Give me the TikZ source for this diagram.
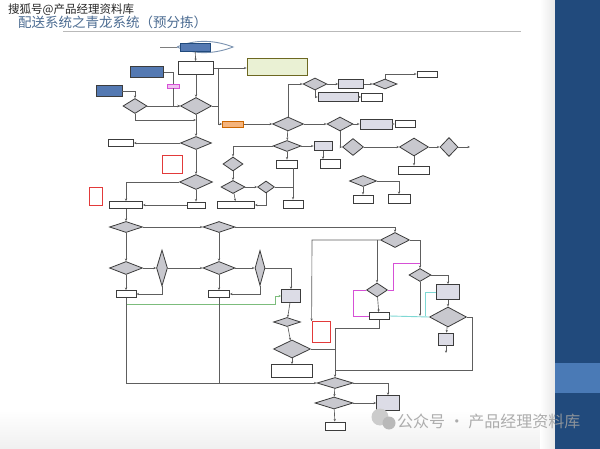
\documentclass[tikz,border=0pt]{standalone}
\usepackage{fontspec}
\usepackage{tikz}
\usetikzlibrary{arrows.meta,shapes.geometric,shapes.misc}
\newfontfamily\cjk{Noto Sans CJK SC}
\definecolor{slideblue}{HTML}{214A7C}
\definecolor{bandblue}{HTML}{4A7AB6}
\definecolor{titlegray}{HTML}{4C6C92}
\definecolor{linegray}{HTML}{5E5E5E}
\definecolor{boxedge}{HTML}{3C3C3C}
\definecolor{diafill}{HTML}{C8C8CE}
\definecolor{boxfill}{HTML}{DCDCE6}
\definecolor{flowblue}{HTML}{5479B2}
\definecolor{flowgreen}{HTML}{7CBC7C}
\definecolor{flowcyan}{HTML}{7ED8D4}
\definecolor{flowpink}{HTML}{D650D6}
\definecolor{flowred}{HTML}{E23A3A}
\definecolor{flowolive}{HTML}{EAF1D4}
\definecolor{floworange}{HTML}{F5B47C}

\begin{document}
\begin{tikzpicture}[x=1pt,y=-1pt,
  sz/.style 2 args={minimum width=#1,minimum height=#2},
  box/.style={draw=boxedge,fill=white,line width=0.8pt,inner sep=0pt},
  gbox/.style={box,fill=boxfill},
  redbox/.style={box,draw=flowred},
  dia/.style={diamond,aspect=1,draw=boxedge,fill=diafill,line width=0.8pt,inner sep=0pt},
  ln/.style={draw=linegray,line width=0.65pt,-{Stealth[length=2.6pt,width=2.2pt]}},
  plain/.style={draw=linegray,line width=0.65pt},
  grn/.style={ln,draw=flowgreen,line width=0.8pt},
  cyn/.style={plain,draw=flowcyan,line width=0.9pt},
  mag/.style={plain,draw=flowpink,line width=0.8pt}]
  \useasboundingbox (0,0) rectangle (600,449);
  % slide background
  \fill[white] (0,0) rectangle (600,449);
  \shade[top color=white,bottom color=gray!12] (0,410) rectangle (540,449);
  \shade[left color=white,right color=gray!18] (540,0) rectangle (555,449);
  \fill[slideblue] (555,0) rectangle (600,449);
  \fill[bandblue] (555,363) rectangle (600,393);
  % title
  \node[anchor=base west,inner sep=0pt,text=titlegray,font=\cjk\fontsize{13.5}{13.5}\selectfont] (title) at (18,28) {配送系统之青龙系统（预分拣）};
  \draw[gray!55,line width=0.8pt] (63,31) -- (521,31);
  \node[anchor=base west,inner sep=0pt,text=black!85,font=\cjk\fontsize{11.5}{11.5}\selectfont] (mark) at (8,13.5) {搜狐号@产品经理资料库};

  % start
  \draw[plain,draw=linegray!80] (160,47) -- (177,47);
  \draw[plain,draw=slideblue!60,line width=0.9pt] (177,47) .. controls (195,39) and (215,40) .. (233,47) .. controls (215,54) and (195,55) .. (177,47);
  \node[box,fill=flowblue,draw=slideblue,sz={30}{8}] (start) at (195,47) {};

  % top left
  \node[box,chamfered rectangle,chamfered rectangle xsep=3pt,sz={35}{13}] (recv) at (196,68) {};
  \node[box,fill=flowblue,sz={33}{11}] (ord1) at (147,72) {};
  \node[box,fill=flowblue,sz={26}{11}] (ord2) at (109,91) {};
  \node[dia,sz={24}{15}] (chk1) at (135,106) {};
  \node[dia,sz={31}{17}] (gis) at (196,106) {};
  \node[box,draw=flowpink,fill=flowpink!35,sz={12}{4}] (tag) at (173,86) {};
  \node[box,draw=olive!70!black,fill=flowolive,sz={60}{17}] (note) at (277,67) {};
  \node[box,draw=orange!80!black,fill=floworange,sz={21}{6}] (addr) at (233,124) {};
  \node[dia,sz={31}{13}] (chk2) at (196,143) {};
  \node[box,sz={25}{7}] (b1) at (121,143) {};
  \node[redbox,sz={20}{18}] (r1) at (172,164) {};
  \node[dia,sz={33}{15}] (chk3) at (196,182) {};
  \node[box,sz={18}{6}] (b2) at (196,205) {};
  \node[box,sz={33}{7}] (b3) at (126,205) {};
  \node[redbox,sz={13}{18}] (r2) at (96,196) {};

  % middle top
  \node[dia,sz={31}{14}] (d12) at (288,124) {};
  \node[dia,sz={24}{12}] (d13) at (315,84) {};
  \node[gbox,sz={25}{9}] (b9) at (351,84) {};
  \node[dia,sz={24}{10}] (d14) at (385,84) {};
  \node[box,sz={20}{6}] (b10) at (427,74) {};
  \node[gbox,sz={40}{9}] (b11) at (338,97) {};
  \node[box,sz={21}{8}] (b12) at (372,97) {};
  \node[dia,sz={26}{14}] (d15) at (340,124) {};
  \node[gbox,sz={32}{10}] (b13) at (376,124) {};
  \node[box,sz={20}{7}] (b14) at (405,124) {};
  \node[dia,sz={28}{11}] (d16) at (287,146) {};
  \node[gbox,sz={18}{9}] (b15) at (323,146) {};
  \node[box,sz={20}{9}] (b16) at (330,164) {};
  \node[box,sz={21}{8}] (b17) at (287,164) {};
  \node[dia,sz={21}{17}] (d17) at (353,147) {};
  \node[dia,sz={29}{18}] (d18) at (414,147) {};
  \node[dia,sz={18}{19}] (d19) at (449,147) {};
  \node[box,sz={31}{8}] (b18) at (414,170) {};
  \node[dia,sz={27}{11}] (d20) at (363,181) {};
  \node[box,sz={20}{8}] (b19) at (363,199) {};
  \node[box,sz={22}{9}] (b20) at (399,199) {};
  \node[dia,sz={20}{14}] (d21) at (233,164) {};
  \node[dia,sz={24}{13}] (d22) at (233,187) {};
  \node[dia,sz={17}{12}] (d23) at (266,187) {};
  \node[box,sz={37}{7}] (b21) at (236,205) {};
  \node[box,sz={20}{8}] (b22) at (293,204) {};

  % lower left
  \node[dia,sz={33}{11}] (d4) at (126,227) {};
  \node[dia,sz={32}{11}] (d5) at (219,227) {};
  \node[dia,sz={33}{13}] (d6) at (126,268) {};
  \node[dia,sz={11}{36}] (v1) at (162,268) {};
  \node[box,sz={20}{7}] (b4) at (126,294) {};
  \node[dia,sz={32}{13}] (d7) at (219,268) {};
  \node[dia,sz={10}{35}] (v2) at (260,268) {};
  \node[box,sz={21}{7}] (b5) at (219,294) {};
  \node[gbox,sz={19}{13}] (gb1) at (291,296) {};
  \node[dia,sz={27}{9}] (d8) at (287,322) {};
  \node[dia,sz={37}{18}] (d9) at (292,349) {};
  \node[box,sz={41}{13}] (b6) at (292,371) {};
  \node[redbox,sz={18}{21}] (r3) at (321,332) {};
  \node[dia,sz={36}{11}] (d10) at (335,383) {};
  \node[dia,sz={38}{12}] (d11) at (334,403) {};
  \node[box,sz={20}{8}] (b7) at (335,426) {};
  \node[gbox,sz={23}{15}] (b8) at (388,403) {};

  % right
  \node[dia,sz={29}{15}] (d24) at (395,240) {};
  \node[dia,sz={22}{13}] (d25) at (420,275) {};
  \node[dia,sz={21}{14}] (d26) at (377,290) {};
  \node[box,sz={20}{7}] (b23) at (379,316) {};
  \node[gbox,sz={23}{15}] (gb2) at (448,292) {};
  \node[dia,sz={37}{20}] (d27) at (448,317) {};
  \node[gbox,sz={15}{12}] (b24) at (446,339) {};

  % joints
  \coordinate (j1) at (196,120);
  \coordinate (j2) at (218,68);
  \coordinate (j3) at (293,187);
  \coordinate (e2) at (470,147);
  \coordinate (g0) at (126,304);
  \coordinate (g1) at (275,304);
  \coordinate (k1) at (126,383);
  \coordinate (k2) at (219,383);
  \coordinate (k3) at (335,349);
  \coordinate (k4) at (335,328);
  \coordinate (k5) at (472,370);
  \coordinate (k6) at (312,240);
  \coordinate (k7) at (446,353);
  \coordinate (m0) at (420,263);
  \coordinate (m1) at (393,290);
  \coordinate (m2) at (353,290);
  \coordinate (c1) at (425,292);

  % top part
  \draw[ln] (start) -- (recv);
  \draw[ln] (recv) -- (gis);
  \draw[plain] (ord1.east) -| (tag.north);
  \draw[ln] (tag.south) |- (gis.west);
  \draw[ln] (ord2.east) -| (chk1.north);
  \draw[ln] (chk1) -- (gis);
  \draw[ln] (chk1.south) |- (j1);
  \draw[ln] (gis) -- (chk2);
  \draw[ln] (recv.east) -- (recv.east -| note.west);
  \draw[ln] (j2) |- (addr.west);
  \draw[plain] (gis.east) -- (gis.east -| j2);
  \draw[ln] (addr) -- (d12);
  \draw[ln] (d12.north) |- (d13.west);
  \draw[ln] (d13) -- (b9);
  \draw[ln] (b9) -- (d14);
  \draw[ln] (d14.north) |- (b10.west);
  \draw[ln] (d13.south) |- (b11.west);
  \draw[ln] (b11) -- (b12);
  \draw[ln] (d12) -- (d15);
  \draw[ln] (d15) -- (b13);
  \draw[ln] (b13) -- (b14);
  \draw[ln] (d15.south) |- (d17.west);
  \draw[ln] (d17) -- (d18);
  \draw[ln] (d18) -- (d19);
  \draw[ln] (d18) -- (b18);
  \draw[ln] (d19) -- (e2);
  \draw[ln] (d12) -- (d16);
  \draw[ln] (d16) -- (b15);
  \draw[ln] (b15.south) -- (b15.south |- b16.north);
  \draw[ln] (d16) -- (b17);
  \draw[ln] (d16.west) -| (d21.north);
  \draw[ln] (d21) -- (d22);
  \draw[ln] (d22) -- (d23);
  \draw[ln] (d22) -- (b21);
  \draw[ln] (d23.south) |- (b21.east);
  \draw[plain] (b17.south -| j3) -- (j3);
  \draw[plain] (d23.east) -- (j3);
  \draw[ln] (j3) -- (b22.north -| j3);
  \draw[ln] (d20) -- (b19);
  \draw[ln] (d20.east) -| (b20.north);

  % left column
  \draw[ln] (chk2) -- (chk3);
  \draw[ln] (chk2) -- (b1);
  \draw[ln] (chk3) -- (b2);
  \draw[ln] (b2) -- (b3);
  \draw[ln] (chk3.west) -| (b3.north);
  \draw[ln] (b3) -- (d4);
  \draw[ln] (d4) -- (d5);
  \draw[ln] (d5.east) -| (d24.north);
  \draw[ln] (d4) -- (d6);
  \draw[ln] (d5) -- (d7);
  \draw[ln] (d6) -- (v1);
  \draw[ln] (v1) -- (d7);
  \draw[ln] (v1.south) |- (b4.east);
  \draw[ln] (d6) -- (b4);
  \draw[ln] (d7) -- (v2);
  \draw[ln] (v2.east) -| (gb1.north);
  \draw[ln] (v2.south) |- (b5.east);
  \draw[ln] (d7) -- (b5);
  \draw[grn] (g0) -- (g1) |- (gb1.west);
  \draw[plain] (b4) -- (k1);
  \draw[plain] (b5) -- (k2);
  \draw[ln] (k1) -- (d10.west);

  % lower middle
  \draw[ln] (gb1) -- (d8);
  \draw[ln] (d8) -- (d9);
  \draw[ln] (d9) -- (b6);
  \draw[plain] (d9.east) -- (k3);
  \draw[plain] (b23.south) |- (k4);
  \draw[ln] (k4) -- (d10.north);
  \draw[plain] (d27.east) -| (k5) -- (k4 |- k5);
  \draw[ln] (d10) -- (d11);
  \draw[ln] (d11) -- (b7);
  \draw[ln] (d10.east) -| (b8.north);
  \draw[ln] (d11) -- (b8);

  % right part
  \draw[ln] (d24.west) -- (k6) -- (r3.north west);
  \draw[ln] (d24.west -| d26.north) -- (d26.north);
  \draw[ln] (d24.east) -| (d25.north);
  \draw[ln] (d26) -- (b23);
  \draw[mag] (m0) -| (m1) -- (d26.east);
  \draw[mag] (d26.west) -- (m2) |- (b23.west);
  \draw[cyn] (d27.west) -- (b23.east);
  \draw[cyn] (gb2.west) -- (c1) -- (c1 |- b23.east);
  \draw[ln] (d25.south) -- (d25.south |- b23.east);
  \draw[ln] (d25.east) -| (gb2.north);
  \draw[ln] (gb2) -- (d27);
  \draw[ln] (d27) -- (b24);
  \draw[ln] (b24) -- (k7);

  % footer mark
  \fill[gray!40] (380,417) circle (8.5);
  \fill[gray!55] (389,423) circle (6.5);
  \node[anchor=base west,inner sep=0pt,text=gray!75,opacity=0.85,font=\cjk\fontsize{16}{16}\selectfont] (gzh) at (397,427) {公众号 · 产品经理资料库};
\end{tikzpicture}
\end{document}
